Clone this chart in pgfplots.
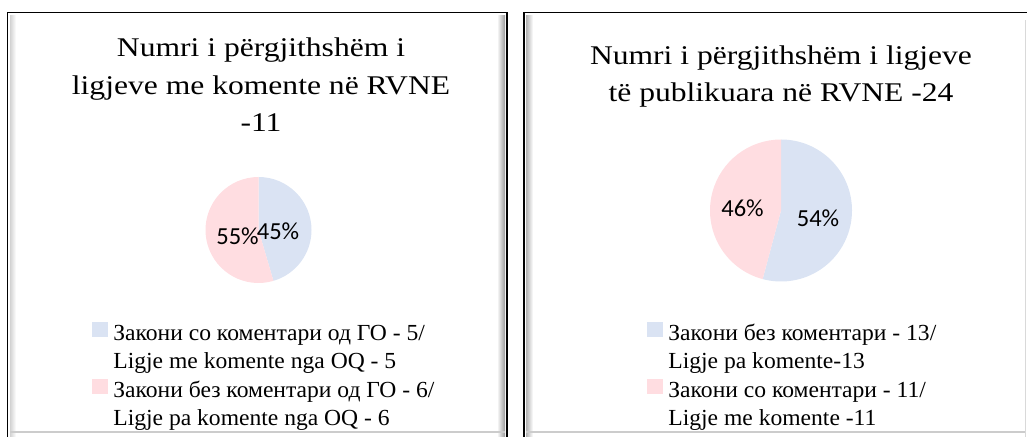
\documentclass[border=0pt]{standalone}
\usepackage{pgfplots}
\usepackage{pgfplotstable}
\pgfplotsset{compat=1.18}
\usepackage{fontspec}
\setmainfont{Liberation Serif}
\newfontfamily\titlefont{Liberation Serif}[FakeStretch=1.17]
\newfontfamily\legendfont{Liberation Serif}[FakeStretch=1.025]
\newfontfamily\labelfont{Carlito}
\definecolor{pieblue}{HTML}{DAE3F3}
\definecolor{piepink}{HTML}{FFDDE1}

\pgfplotstableread{
label value
A 5
B 6
}\lefttable
\pgfplotstableread{
label value
A 13
B 11
}\righttable

\begin{document}
\begin{tikzpicture}[x=1pt,y=1pt]
\useasboundingbox (0,0) rectangle (1027,436);
\begin{scope}
\clip (0,0) rectangle (1027,436);
% left frame
\shade[left color=gray!35, right color=white] (10,-5) rectangle (16,420);
\shade[left color=white, right color=gray!80] (497,-5) rectangle (505,420);
\fill[gray!40] (10,3) rectangle (505,5);
\draw[line width=1.8pt] (7.5,-10) rectangle (507,423.5);
% right frame
\shade[left color=gray!60, right color=white] (526,-5) rectangle (533,420);
\fill[gray!30] (1024.5,-5) rectangle (1025.5,416);
\fill[gray!40] (526,3) rectangle (1025,5);
\draw[line width=1.8pt] (524,-10) rectangle (1045,423.5);
\end{scope}

% titles (anchor=base is the baseline of the last line)
\node[align=center, font=\titlefont\fontsize{27}{37.5}\selectfont, anchor=base, inner sep=0pt] at (261,304)
  {Numri i përgjithshëm i\\ligjeve me komente në RVNE\\-11};
\node[align=center, font=\titlefont\fontsize{27}{37.5}\selectfont, anchor=base, inner sep=0pt] at (781,334)
  {Numri i përgjithshëm i ligjeve\\të publikuara në RVNE -24};

% left pie
\pgfplotstablegetelem{0}{value}\of\lefttable \let\la\pgfplotsretval
\pgfplotstablegetelem{1}{value}\of\lefttable \let\lb\pgfplotsretval
\pgfmathsetmacro{\lang}{360*\la/(\la+\lb)}
\begin{axis}[at={(0,0)}, anchor=south west, scale only axis, width=1027pt, height=436pt,
  xmin=0, xmax=1027, ymin=0, ymax=436, hide axis, clip=false,
  legend style={draw=none, fill=none, at={(92/1027,115/436)}, anchor=north west,
    inner sep=0pt, outer sep=0pt, row sep=0pt,
    font=\legendfont\fontsize{23}{28}\selectfont,
    nodes={inner sep=0pt, text height=19pt, text depth=9.5pt},
    /tikz/every odd column/.append style={column sep=6pt}},
  legend cell align=left]
\fill[pieblue] (axis cs:258.5,206) -- ++(90:53pt) arc[start angle=90, delta angle=-\lang, radius=53pt] -- cycle;
\fill[piepink] (axis cs:258.5,206) -- ++(90-\lang:53pt) arc[start angle=90-\lang, end angle=-270, radius=53pt] -- cycle;
\node[font=\labelfont\fontsize{24.5}{28}\selectfont] at (axis cs:237.5,200) {55\%};
\node[font=\labelfont\fontsize{24.5}{28}\selectfont] at (axis cs:278,205) {45\%};
\addlegendimage{legend image code/.code={\fill[pieblue] (0pt,-1pt) rectangle (15pt,13pt);}}
\addlegendentry{Закони со коментари од ГО - 5/}
\addlegendimage{empty legend}
\addlegendentry{Ligje me komente nga OQ - 5}
\addlegendimage{legend image code/.code={\fill[piepink] (0pt,-1pt) rectangle (15pt,13pt);}}
\addlegendentry{Закони без коментари од ГО - 6/}
\addlegendimage{empty legend}
\addlegendentry{Ligje pa komente nga OQ - 6}
\end{axis}

% right pie
\pgfplotstablegetelem{0}{value}\of\righttable \let\ra\pgfplotsretval
\pgfplotstablegetelem{1}{value}\of\righttable \let\rb\pgfplotsretval
\pgfmathsetmacro{\rang}{360*\ra/(\ra+\rb)}
\begin{axis}[at={(0,0)}, anchor=south west, scale only axis, width=1027pt, height=436pt,
  xmin=0, xmax=1027, ymin=0, ymax=436, hide axis, clip=false,
  legend style={draw=none, fill=none, at={(647/1027,115/436)}, anchor=north west,
    inner sep=0pt, outer sep=0pt, row sep=0pt,
    font=\legendfont\fontsize{23}{28}\selectfont,
    nodes={inner sep=0pt, text height=19pt, text depth=9.5pt},
    /tikz/every odd column/.append style={column sep=6pt}},
  legend cell align=left]
\fill[pieblue] (axis cs:781,225.5) -- ++(90:71pt) arc[start angle=90, delta angle=-\rang, radius=71pt] -- cycle;
\fill[piepink] (axis cs:781,225.5) -- ++(90-\rang:71pt) arc[start angle=90-\rang, end angle=-270, radius=71pt] -- cycle;
\node[font=\labelfont\fontsize{24.5}{28}\selectfont] at (axis cs:742.5,228) {46\%};
\node[font=\labelfont\fontsize{24.5}{28}\selectfont] at (axis cs:818,218) {54\%};
\addlegendimage{legend image code/.code={\fill[pieblue] (0pt,-1pt) rectangle (15pt,13pt);}}
\addlegendentry{Закони без коментари - 13/}
\addlegendimage{empty legend}
\addlegendentry{Ligje pa komente-13}
\addlegendimage{legend image code/.code={\fill[piepink] (0pt,-1pt) rectangle (15pt,13pt);}}
\addlegendentry{Закони со коментари - 11/}
\addlegendimage{empty legend}
\addlegendentry{Ligje me komente -11}
\end{axis}
\end{tikzpicture}
\end{document}
